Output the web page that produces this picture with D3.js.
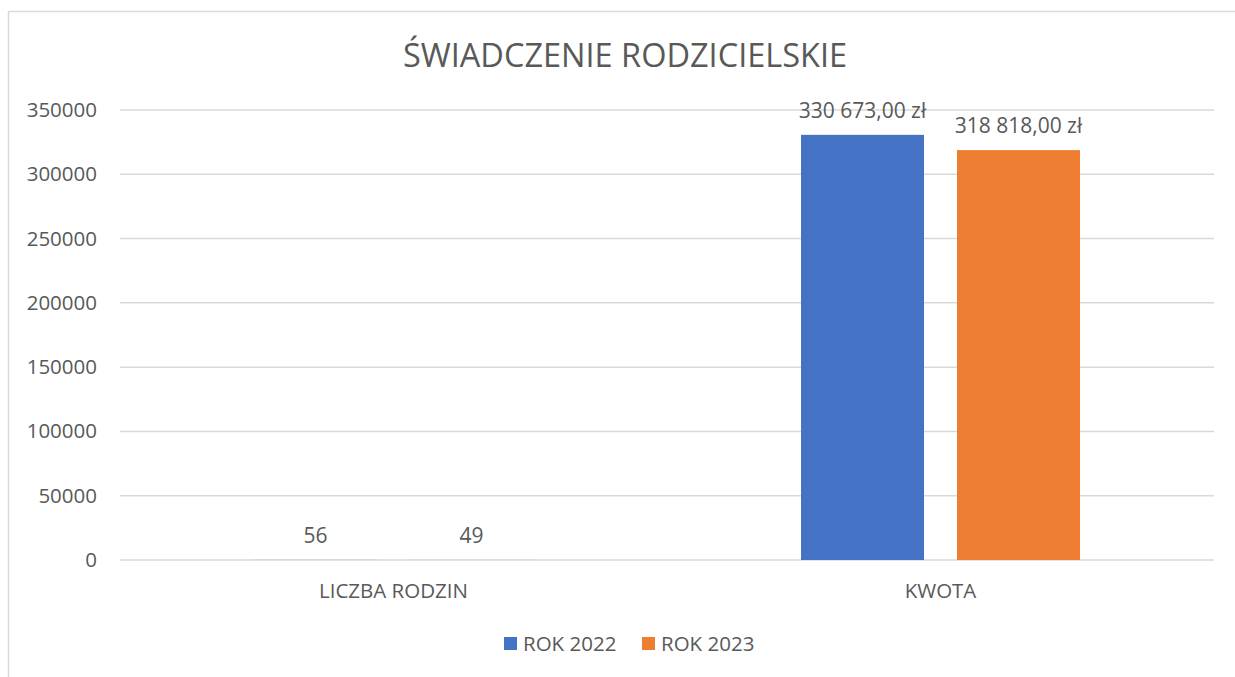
<!DOCTYPE html>
<html>
<head>
<meta charset="utf-8">
<script src="https://cdn.jsdelivr.net/npm/d3@7"></script>
<style>
  body { margin: 0; background: #fff; overflow: hidden; }
  svg text { font-family: "Open Sans", sans-serif; fill: #595959; }
</style>
</head>
<body>
<div class="chart"></div>
<script>
// data
var categories = ["LICZBA RODZIN", "KWOTA"];
var seriesNames = ["ROK 2022", "ROK 2023"];
var values2022 = [56, 330673];
var values2023 = [49, 318818];
var valueLabels2022 = ["56", "330 673,00 zł"];
var valueLabels2023 = ["49", "318 818,00 zł"];
var yTicks = [0, 50000, 100000, 150000, 200000, 250000, 300000, 350000];
var colors = ["#4472C4", "#ED7D31"];

var svgWidth = 1235;
var svgHeight = 677;

var margin = { top: 110, right: 21, bottom: 117, left: 120 };
var width = svgWidth - margin.left - margin.right;
var height = svgHeight - margin.top - margin.bottom;

var svg = d3.select(".chart")
  .append("svg")
  .attr("width", svgWidth)
  .attr("height", svgHeight)
  .style("display", "block");

// chart border (only left and top edges are visible)
svg.append("path")
  .attr("d", "M8.5," + (svgHeight + 5) + "V11.5H" + (svgWidth + 5))
  .attr("fill", "none")
  .attr("stroke", "#d9d9d9")
  .attr("stroke-width", 1.5);

// title
svg.append("text")
  .attr("x", 625)
  .attr("y", 67)
  .attr("text-anchor", "middle")
  .attr("font-size", "32.5px")
  .text("ŚWIADCZENIE RODZICIELSKIE");

var chartGroup = svg.append("g")
  .attr("transform", `translate(${margin.left}, ${margin.top})`);

var yScale = d3.scaleLinear()
  .domain([0, 350000])
  .range([height, 0]);

var x0 = d3.scaleBand()
  .domain(categories)
  .range([0, width]);

var x1 = d3.scaleBand()
  .domain(seriesNames)
  .range([0, 279])
  .paddingInner(33 / 156);

// gridlines
chartGroup.selectAll(".grid")
  .data(yTicks)
  .enter()
  .append("line")
  .attr("x1", 0)
  .attr("x2", width)
  .attr("y1", d => yScale(d))
  .attr("y2", d => yScale(d))
  .attr("stroke", "#d9d9d9")
  .attr("stroke-width", 1.5);

// y axis
var yAxis = d3.axisLeft(yScale).tickValues(yTicks).tickSize(0).tickPadding(23).tickFormat(d3.format("d"));
var yG = chartGroup.append("g").call(yAxis);
yG.select(".domain").remove();
yG.selectAll("text").attr("font-size", "20.5px").attr("fill", "#595959")
  .style("font-family", "'Open Sans', sans-serif");

// x axis labels
chartGroup.selectAll(".xlabel")
  .data(categories)
  .enter()
  .append("text")
  .attr("x", d => x0(d) + x0.bandwidth() / 2)
  .attr("y", height + 38)
  .attr("text-anchor", "middle")
  .attr("font-size", "20.5px")
  .text(d => d);

// bars
var rows = categories.map((c, i) => ({
  cat: c,
  vals: [
    { s: seriesNames[0], v: values2022[i], label: valueLabels2022[i], color: colors[0] },
    { s: seriesNames[1], v: values2023[i], label: valueLabels2023[i], color: colors[1] }
  ]
}));

var groups = chartGroup.selectAll(".grp")
  .data(rows)
  .enter()
  .append("g")
  .attr("transform", d => `translate(${x0(d.cat) + (x0.bandwidth() - 279) / 2}, 0)`);

groups.selectAll("rect")
  .data(d => d.vals)
  .enter()
  .append("rect")
  .attr("x", d => x1(d.s))
  .attr("y", d => yScale(d.v))
  .attr("width", x1.bandwidth())
  .attr("height", d => height - yScale(d.v))
  .attr("fill", d => d.color);

groups.selectAll(".vlabel")
  .data(d => d.vals)
  .enter()
  .append("text")
  .attr("x", d => x1(d.s) + x1.bandwidth() / 2)
  .attr("y", d => yScale(d.v) - 17)
  .attr("text-anchor", "middle")
  .attr("font-size", "21px")
  .attr("fill", "#404040")
  .text(d => d.label);

// legend
var legend = svg.append("g");
var legendX = [504, 642];
seriesNames.forEach(function(s, i) {
  legend.append("rect")
    .attr("x", legendX[i])
    .attr("y", 637)
    .attr("width", 13)
    .attr("height", 13)
    .attr("fill", colors[i]);
  legend.append("text")
    .attr("x", legendX[i] + 19)
    .attr("y", 651)
    .attr("font-size", "20.5px")
    .text(s);
});
</script>
</body>
</html>
